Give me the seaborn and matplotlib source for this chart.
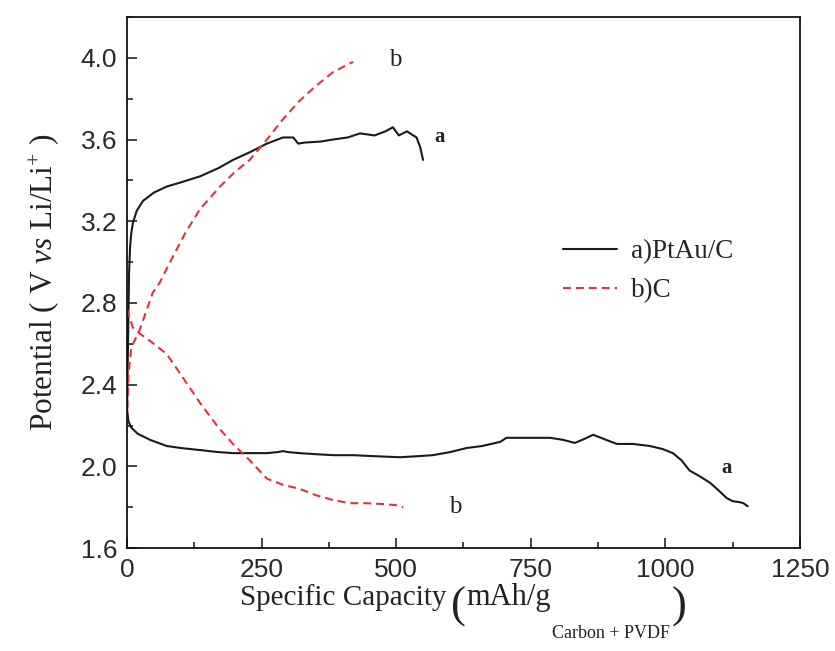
import matplotlib
matplotlib.use("Agg")
import matplotlib.pyplot as plt
from matplotlib.ticker import MultipleLocator
import seaborn as sns

# Galvanostatic charge/discharge curves (specific capacity in mAh/g, potential in V)
a_charge_cap = [0, 2, 4, 6, 8, 11, 18, 30, 50, 74, 100, 136, 170, 197, 230, 260, 290,
                309, 318, 330, 360, 383, 410, 433, 460, 480, 494, 505, 520, 538, 545, 550]
a_charge_v = [2.22, 2.6, 2.95, 3.08, 3.14, 3.19, 3.25, 3.30, 3.34, 3.37, 3.39, 3.42, 3.46,
              3.50, 3.54, 3.58, 3.61, 3.61, 3.58, 3.585, 3.59, 3.60, 3.61, 3.63, 3.62, 3.64,
              3.66, 3.62, 3.64, 3.61, 3.56, 3.50]

a_dis_cap = [0, 3, 8, 20, 43, 74, 100, 136, 170, 197, 230, 260, 280, 290, 300, 321, 350,
             383, 420, 460, 507, 540, 568, 600, 631, 660, 693, 705, 720, 760, 786, 810, 832,
             850, 866, 890, 910, 940, 971, 995, 1014, 1030, 1045, 1065, 1083, 1100, 1114,
             1125, 1138, 1145, 1153]
a_dis_v = [2.28, 2.22, 2.19, 2.16, 2.13, 2.10, 2.09, 2.08, 2.07, 2.065, 2.065, 2.065, 2.07,
           2.075, 2.07, 2.065, 2.06, 2.055, 2.055, 2.05, 2.045, 2.05, 2.055, 2.07, 2.09, 2.10,
           2.12, 2.14, 2.14, 2.14, 2.14, 2.13, 2.115, 2.135, 2.155, 2.13, 2.11, 2.11, 2.10,
           2.085, 2.065, 2.03, 1.98, 1.95, 1.92, 1.88, 1.845, 1.83, 1.825, 1.82, 1.805]

b_charge_cap = [0, 3, 8, 24, 48, 61, 86, 110, 136, 173, 200, 228, 260, 290, 321, 350, 383,
                405, 420]
b_charge_v = [2.22, 2.45, 2.58, 2.67, 2.85, 2.90, 3.03, 3.15, 3.26, 3.37, 3.44, 3.50, 3.60,
              3.70, 3.79, 3.86, 3.93, 3.96, 3.98]

b_dis_cap = [0, 11, 24, 45, 74, 100, 136, 170, 197, 228, 260, 290, 321, 350, 383, 415, 445,
             480, 500, 513]
b_dis_v = [2.77, 2.68, 2.65, 2.61, 2.55, 2.45, 2.31, 2.19, 2.11, 2.03, 1.94, 1.91, 1.89,
           1.86, 1.835, 1.82, 1.82, 1.815, 1.81, 1.80]

series_labels = ["a)PtAu/C", "b)C"]
x_ticks = [0, 250, 500, 750, 1000, 1250]
y_ticks = [1.6, 2.0, 2.4, 2.8, 3.2, 3.6, 4.0]

sns.set_theme(style="ticks")
plt.rcParams["font.family"] = ["Liberation Serif", "DejaVu Serif"]
plt.rcParams["mathtext.fontset"] = "custom"
plt.rcParams["mathtext.rm"] = "Liberation Serif"
plt.rcParams["mathtext.it"] = "Liberation Serif:italic"
plt.rcParams["mathtext.bf"] = "Liberation Serif:bold"

fig = plt.figure(figsize=(8.35, 6.51), dpi=100)
ax = fig.add_axes([0.152, 0.158, 0.806, 0.816])

black = "#1a1a1a"
red = "#e8303a"
dash = (0, (3.8, 2.4))

sns.lineplot(x=a_charge_cap, y=a_charge_v, sort=False, estimator=None, ax=ax,
             color=black, lw=1.5, label=series_labels[0])
sns.lineplot(x=a_dis_cap, y=a_dis_v, sort=False, estimator=None, ax=ax,
             color=black, lw=1.5)
sns.lineplot(x=b_charge_cap, y=b_charge_v, sort=False, estimator=None, ax=ax,
             color=red, lw=1.5, label=series_labels[1])
sns.lineplot(x=b_dis_cap, y=b_dis_v, sort=False, estimator=None, ax=ax,
             color=red, lw=1.5)
for ln in ax.lines[2:4]:
    ln.set_linestyle(dash)

ax.set_xlim(0, 1250)
ax.set_ylim(1.6, 4.2)
ax.set_xticks(x_ticks)
ax.set_xticklabels([str(v) for v in x_ticks])
ax.set_yticks(y_ticks)
ax.set_yticklabels([f"{v:.1f}" for v in y_ticks])
ax.xaxis.set_minor_locator(MultipleLocator(125))
ax.yaxis.set_minor_locator(MultipleLocator(0.2))
for lbl in ax.get_xticklabels() + ax.get_yticklabels():
    lbl.set_fontfamily("Liberation Sans")
    lbl.set_fontsize(19)
    lbl.set_color("#2a2a2a")

ax.tick_params(which="major", direction="in", length=7, width=1.2, pad=7,
               top=False, right=False)
ax.tick_params(which="minor", direction="in", length=4.3, width=1.2,
               top=False, right=False)
for sp in ax.spines.values():
    sp.set_linewidth(1.3)
    sp.set_color("#111111")

# x-axis title: pieces laid out left to right on a shared baseline,
# with tall parentheses around the unit and a lowered subscript
W, H = fig.get_size_inches() * fig.dpi
x_title = [  # text, size, gap (pt), vertical shift (pt)
    ("Specific Capacity", 21, 0, 0),
    ("(", 32, 3, -9),
    ("mAh/g", 22, 0.5, 0),
    ("Carbon + PVDF", 13, 1, -24),
    (")", 32, 1, -9),
]
base_y = 1 - 605 / H
prev = None
for s, size, gap, dy in x_title:
    if prev is None:
        t = ax.annotate(s, xy=(240 / W, base_y), xycoords="figure fraction",
                        ha="left", va="baseline", fontsize=size, color="#222222",
                        annotation_clip=False)
    else:
        t = ax.annotate(s, xy=(1, base_y), xycoords=(prev, "figure fraction"),
                        xytext=(gap, dy), textcoords="offset points",
                        ha="left", va="baseline", fontsize=size, color="#222222",
                        annotation_clip=False)
    prev = t

ax.set_ylabel(r"Potential ( V $\mathit{vs}$ Li/Li$^{+}$ )", fontsize=22.5, color="#222222")
ax.yaxis.set_label_coords(-0.098, 0.50)

# Curve tags
ax.text(498, 3.99, "b", fontsize=18, color="#222222", ha="center", va="center")
ax.text(581, 3.61, "a", fontsize=15, fontweight="bold", color="#222222",
        ha="center", va="center")
ax.text(1114, 1.99, "a", fontsize=15, fontweight="bold", color="#222222",
        ha="center", va="center")
ax.text(609, 1.80, "b", fontsize=18, color="#222222", ha="center", va="center")

ax.legend(loc="center left", bbox_to_anchor=(0.648, 0.521), frameon=False,
          fontsize=19.5, handlelength=2.0, handletextpad=0.5, labelspacing=0.5,
          borderpad=0, borderaxespad=0)

fig.savefig("out.png", dpi=100)
